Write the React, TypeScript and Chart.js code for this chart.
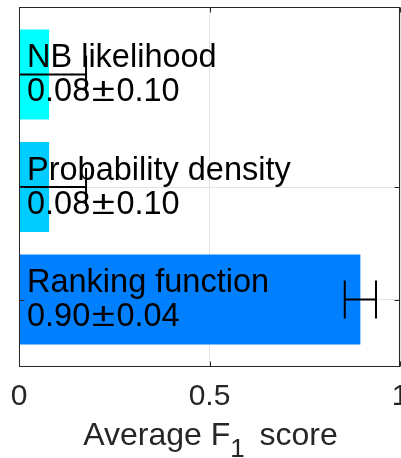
import React, { useEffect, useRef } from "react";
import { Chart, registerables } from "chart.js";

Chart.register(...registerables);

// ---- data ----
const methodNames = ["NB likelihood", "Probability density", "Ranking function"];
const meanF1 = [0.079, 0.079, 0.896];
const stdF1 = [0.097, 0.097, 0.041];
const barPositions = [3, 2, 1];
const barColors = ["#00FFFF", "#00CCFF", "#0080FF"];
const xTickValues = [0, 0.5, 1];
const xTickLabels = ["0", "0.5", "1"];
const yTickValues = [1, 2];
const yLimits = [0.41, 3.6];
const xLimits = [0, 1];

const FONT = "'Liberation Sans', Arial, sans-serif";
const AXIS_COLOR = "#262626";
const GRID_COLOR = "#e3e3e3";

const overlayPlugin = {
  id: "overlay",
  afterDatasetsDraw(chart: any) {
    const { ctx, chartArea } = chart;
    const xs = chart.scales.x;
    const ys = chart.scales.y;
    const L = Math.round(chartArea.left) + 0.5;
    const R = Math.round(chartArea.right) - 0.5;
    const T = Math.round(chartArea.top) + 0.5;
    const B = Math.round(chartArea.bottom) + 0.5;

    // error bars (clipped to the axes)
    ctx.save();
    ctx.beginPath();
    ctx.rect(chartArea.left, chartArea.top, chartArea.right - chartArea.left, chartArea.bottom - chartArea.top);
    ctx.clip();
    ctx.strokeStyle = "#000";
    ctx.lineWidth = 2;
    const capHalf = 19;
    meanF1.forEach((m, i) => {
      const y = ys.getPixelForValue(barPositions[i]);
      const x1 = xs.getPixelForValue(m - stdF1[i]);
      const x2 = xs.getPixelForValue(m + stdF1[i]);
      ctx.beginPath();
      ctx.moveTo(x1, y);
      ctx.lineTo(x2, y);
      ctx.moveTo(x1, y - capHalf);
      ctx.lineTo(x1, y + capHalf);
      ctx.moveTo(x2, y - capHalf);
      ctx.lineTo(x2, y + capHalf);
      ctx.stroke();
    });
    ctx.restore();

    // box and inward ticks
    ctx.save();
    ctx.strokeStyle = AXIS_COLOR;
    ctx.lineWidth = 1;
    ctx.strokeRect(L, T, R - L, B - T);
    const tl = 5;
    ctx.beginPath();
    xTickValues.forEach((v) => {
      const x = Math.round(xs.getPixelForValue(v)) + 0.5;
      ctx.moveTo(x, B);
      ctx.lineTo(x, B - tl);
      ctx.moveTo(x, T);
      ctx.lineTo(x, T + tl);
    });
    yTickValues.forEach((v) => {
      const y = Math.round(ys.getPixelForValue(v)) + 0.5;
      ctx.moveTo(L, y);
      ctx.lineTo(L + tl, y);
      ctx.moveTo(R, y);
      ctx.lineTo(R - tl, y);
    });
    ctx.stroke();
    ctx.restore();

    // bar annotations
    ctx.save();
    ctx.fillStyle = "#000";
    ctx.font = `32.5px ${FONT}`;
    ctx.textAlign = "left";
    ctx.textBaseline = "alphabetic";
    const pmPad = 1.5;
    const pmStretch = 1.3;
    methodNames.forEach((name, i) => {
      const c = ys.getPixelForValue(barPositions[i]);
      const x = chartArea.left + 8;
      ctx.fillText(name, x, c - 7.5);
      const mTxt = meanF1[i].toFixed(2);
      const sTxt = stdF1[i].toFixed(2);
      const wm = ctx.measureText(mTxt).width;
      const wp = ctx.measureText("\u00B1").width * pmStretch;
      ctx.fillText(mTxt, x, c + 26.5);
      ctx.save();
      ctx.translate(x + wm + pmPad, c + 26.5);
      ctx.scale(pmStretch, 1);
      ctx.fillText("\u00B1", 0, 0);
      ctx.restore();
      ctx.fillText(sTxt, x + wm + wp + 2 * pmPad, c + 26.5);
    });
    ctx.restore();

    // x tick labels
    ctx.save();
    ctx.fillStyle = AXIS_COLOR;
    ctx.font = `30px ${FONT}`;
    ctx.textAlign = "center";
    ctx.textBaseline = "alphabetic";
    xTickValues.forEach((v, i) => {
      ctx.fillText(xTickLabels[i], xs.getPixelForValue(v), chartArea.bottom + 38.5);
    });
    ctx.restore();

    // x axis title with subscript
    ctx.save();
    ctx.fillStyle = AXIS_COLOR;
    ctx.textAlign = "left";
    ctx.textBaseline = "alphabetic";
    const part1 = "Average F";
    const sub = "1";
    const part3 = " score";
    ctx.font = `32px ${FONT}`;
    const w1 = ctx.measureText(part1).width;
    const w3 = ctx.measureText(part3).width;
    ctx.font = `26px ${FONT}`;
    const w2 = ctx.measureText(sub).width;
    const gap = 6;
    const total = w1 + w2 + gap + w3;
    const cx = (chartArea.left + chartArea.right) / 2 + 1;
    const x0 = cx - total / 2;
    const base = chartArea.bottom + 79;
    ctx.font = `32px ${FONT}`;
    ctx.fillText(part1, x0, base);
    ctx.font = `26px ${FONT}`;
    ctx.fillText(sub, x0 + w1, base + 12);
    ctx.font = `32px ${FONT}`;
    ctx.fillText(part3, x0 + w1 + w2 + gap, base);
    ctx.restore();
  },
};

export default function App() {
  const canvasRef = useRef<HTMLCanvasElement | null>(null);

  useEffect(() => {
    if (!canvasRef.current) return;
    const chart = new Chart(canvasRef.current, {
      type: "bar",
      data: {
        datasets: [
          {
            data: meanF1.map((m, i) => ({ x: m, y: barPositions[i] })),
            backgroundColor: barColors,
            borderWidth: 0,
            barPercentage: 0.8,
            categoryPercentage: 1,
          },
        ],
      },
      options: {
        indexAxis: "y",
        animation: false,
        responsive: false,
        devicePixelRatio: 1,
        layout: { autoPadding: false, padding: { left: 19, right: 1, top: 7, bottom: 0 } },
        plugins: { legend: { display: false }, tooltip: { enabled: false } },
        scales: {
          x: {
            type: "linear",
            position: "bottom",
            min: xLimits[0],
            max: xLimits[1],
            offset: false,
            afterBuildTicks: (s: any) => {
              s.ticks = xTickValues.map((v) => ({ value: v }));
            },
            afterFit: (s: any) => {
              s.height = 92;
              s.paddingLeft = 0;
              s.paddingRight = 0;
            },
            ticks: { display: false },
            grid: { color: GRID_COLOR, drawTicks: false, lineWidth: 1, offset: false },
            border: { display: false },
          },
          y: {
            type: "linear",
            position: "left",
            min: yLimits[0],
            max: yLimits[1],
            offset: false,
            afterBuildTicks: (s: any) => {
              s.ticks = yTickValues.map((v) => ({ value: v }));
            },
            afterFit: (s: any) => {
              s.width = 0;
              s.paddingTop = 0;
              s.paddingBottom = 0;
            },
            ticks: { display: false },
            grid: { color: GRID_COLOR, drawTicks: false, lineWidth: 1, offset: false },
            border: { display: false },
          },
        },
      },
      plugins: [overlayPlugin],
    } as any);
    return () => chart.destroy();
  }, []);

  return (
    <div style={{ position: "absolute", left: 0, top: 0, width: 401, height: 458, background: "#fff" }}>
      <canvas ref={canvasRef} width={401} height={458} style={{ display: "block" }} />
    </div>
  );
}
